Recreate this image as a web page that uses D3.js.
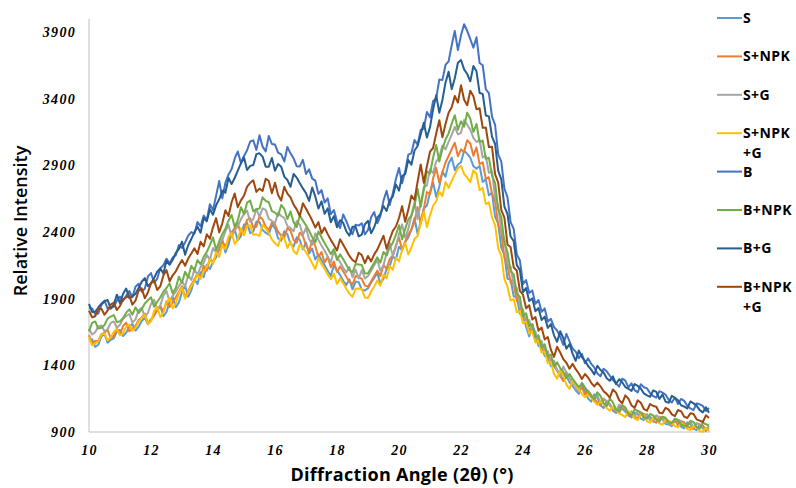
<!DOCTYPE html>
<html>
<head>
<meta charset="utf-8">
<script src="https://cdn.jsdelivr.net/npm/d3@7"></script>
<style>
  body { margin: 0; background: #fff; }
  svg { display: block; }
</style>
</head>
<body>
<svg id="chart" width="796" height="488"></svg>
<script>
// diffraction angle grid: 10.0 .. 30.0 in 0.1 steps
var startAngle = 10, angleStep = 0.1, nPoints = 201;
var angles = d3.range(nPoints).map(function(i) { return +(startAngle + i * angleStep).toFixed(1); });

var seriesNames = ["S", "S+NPK", "S+G", "S+NPK+G", "B", "B+NPK", "B+G", "B+NPK+G"];
var legendLines = [["S"], ["S+NPK"], ["S+G"], ["S+NPK", "+G"], ["B"], ["B+NPK"], ["B+G"], ["B+NPK", "+G"]];
var xTicks = [10, 12, 14, 16, 18, 20, 22, 24, 26, 28, 30];
var yTicks = [900, 1400, 1900, 2400, 2900, 3400, 3900];

var sVals = [
1585,1596,1538,1554,1617,1633,1570,1591,1602,1654,
1665,1620,1645,1690,1710,1660,1689,1732,1756,1708,
1736,1780,1812,1844,1768,1800,1878,1914,1836,1872,
1950,1998,1914,1962,2046,2010,2098,2061,2154,2122,
2177,2210,2274,2343,2246,2305,2391,2418,2337,2369,
2455,2467,2391,2403,2479,2475,2415,2395,2380,2455,
2430,2353,2334,2406,2382,2310,2290,2360,2340,2270,
2320,2238,2276,2194,2232,2190,2150,2110,2070,2150,
2110,2078,2034,2002,2046,1970,2028,2024,1966,1962,
1978,2020,2056,2092,2014,2050,2122,2146,2218,2194,
2290,2262,2326,2359,2418,2503,2385,2481,2577,2599,
2695,2771,2663,2739,2852,2815,2914,2957,2863,2906,
2923,3010,2986,2957,2894,2875,2895,2775,2795,2675,
2695,2514,2463,2282,2226,2050,2044,1918,1912,1786,
1775,1689,1617,1708,1631,1545,1557,1469,1481,1393,
1405,1361,1333,1289,1317,1274,1245,1213,1186,1247,
1210,1151,1128,1182,1159,1100,1080,1130,1110,1060,
1042,1090,1074,1053,1026,1010,1045,1035,1000,990,
1020,1015,980,970,1005,996,960,957,944,988,
980,941,928,972,959,925,914,957,946,908,
935];

var sNpkVals = [
1626,1565,1582,1584,1633,1645,1666,1603,1619,1677,
1630,1695,1720,1655,1675,1697,1740,1759,1788,1716,
1745,1772,1816,1843,1804,1880,1838,1874,1911,1952,
1994,1910,1958,2006,2042,2090,2058,2146,2109,2202,
2170,2234,2267,2326,2293,2343,2395,2431,2467,2379,
2415,2491,2503,2432,2439,2515,2495,2440,2415,2470,
2455,2400,2375,2360,2430,2410,2340,2320,2395,2370,
2300,2256,2338,2294,2212,2250,2172,2214,2136,2178,
2100,2142,2106,2064,2028,2006,2070,2062,2049,1998,
1990,2030,2070,2110,2070,2150,2126,2198,2222,2299,
2358,2265,2326,2382,2419,2475,2587,2461,2573,2699,
2685,2802,2881,2769,2848,2921,2970,3022,3069,2968,
3020,3001,3088,3064,2972,3035,2909,2923,2797,2811,
2685,2635,2450,2395,2210,2150,2020,2010,1885,1870,
1740,1757,1664,1681,1593,1605,1517,1534,1441,1453,
1393,1365,1321,1282,1349,1305,1273,1244,1207,1236,
1180,1211,1178,1152,1119,1099,1150,1128,1106,1077,
1055,1044,1087,1071,1023,1055,1010,1005,1045,1035,
1025,990,980,975,1015,1005,997,966,953,989,
950,981,973,937,934,922,965,954,948,916,
920];

var sGVals = [
1675,1631,1648,1692,1699,1655,1671,1718,1729,1682,
1705,1750,1770,1785,1720,1745,1812,1831,1764,1793,
1860,1892,1821,1848,1924,1958,1880,1921,1952,1994,
2030,1992,2074,2041,2118,2080,2136,2168,2229,2192,
2280,2245,2310,2340,2405,2455,2365,2410,2445,2495,
2535,2560,2475,2495,2575,2515,2577,2566,2499,2483,
2465,2545,2520,2505,2445,2430,2406,2483,2454,2377,
2430,2348,2304,2391,2342,2298,2260,2216,2172,2259,
2210,2174,2132,2096,2138,2060,2118,2051,2114,2052,
2070,2110,2150,2190,2110,2150,2244,2317,2218,2286,
2385,2457,2356,2423,2524,2625,2495,2615,2735,2750,
2870,2841,2928,2962,3049,3020,3076,3128,3189,3132,
3142,3240,3204,3168,3106,3075,3092,2959,2971,2843,
2855,2659,2598,2407,2346,2160,2140,2000,1980,1840,
1820,1725,1740,1640,1655,1565,1584,1493,1507,1416,
1435,1363,1319,1391,1347,1307,1275,1244,1203,1271,
1235,1202,1176,1143,1174,1120,1149,1132,1098,1076,
1057,1105,1089,1073,1041,1025,1013,1059,1047,1001,
1035,990,980,1025,1010,1006,970,967,954,998,
990,982,946,943,974,935,967,956,924,918,
945];

var sNpkGVals = [
1611,1550,1567,1579,1628,1640,1588,1609,1651,1672,
1625,1640,1690,1705,1660,1682,1730,1754,1778,1711,
1730,1806,1838,1762,1794,1870,1906,1828,1864,1942,
1984,1900,1948,1996,2032,2080,2048,2104,2136,2197,
2160,2248,2211,2304,2272,2365,2392,2311,2343,2429,
2375,2447,2451,2379,2383,2371,2455,2427,2394,2343,
2315,2295,2370,2350,2280,2330,2258,2234,2306,2282,
2248,2210,2166,2122,2204,2160,2124,2082,2046,2088,
2010,2052,2016,1974,1938,1913,1975,1976,1972,1909,
1905,1954,1992,2036,1998,2080,2052,2144,2116,2208,
2180,2266,2318,2232,2284,2349,2370,2463,2551,2437,
2525,2597,2631,2703,2669,2775,2731,2783,2832,2879,
2896,2835,2807,2774,2863,2835,2713,2731,2609,2622,
2510,2454,2278,2222,2046,1990,1886,1897,1798,1809,
1715,1729,1638,1657,1571,1585,1495,1505,1415,1425,
1335,1300,1365,1325,1255,1224,1285,1253,1216,1187,
1160,1186,1158,1127,1104,1130,1110,1080,1060,1090,
1073,1040,1026,1012,1054,1045,1000,990,1030,1025,
980,970,1010,1005,965,955,995,985,970,945,
935,966,953,922,914,945,939,907,901,933,
905];

var bVals = [
1830,1826,1783,1789,1852,1885,1825,1830,1840,1885,
1915,1884,1922,1958,1911,1990,2011,1953,1974,2067,
2092,2020,2049,2128,2151,2200,2163,2209,2226,2302,
2280,2321,2373,2399,2387,2475,2442,2524,2491,2608,
2565,2671,2783,2652,2769,2831,2870,2952,3004,2918,
2970,3013,3079,3087,3016,3125,3040,3005,3120,3060,
3056,2995,2982,2929,3038,2990,2953,2894,2892,2941,
2835,2870,2800,2785,2685,2715,2621,2652,2533,2564,
2480,2429,2532,2481,2423,2384,2455,2448,2466,2382,
2415,2510,2550,2465,2520,2635,2709,2602,2691,2798,
2880,2765,2855,2980,2990,3090,3055,3165,3175,3300,
3260,3382,3401,3543,3539,3653,3680,3801,3907,3764,
3875,3958,3909,3846,3782,3860,3668,3651,3469,3442,
3265,3204,2983,2927,2726,2660,2474,2423,2232,2186,
2010,2039,1943,1962,1861,1890,1801,1827,1728,1749,
1687,1660,1614,1553,1636,1580,1526,1503,1454,1487,
1415,1452,1411,1384,1338,1318,1375,1356,1322,1289,
1265,1240,1300,1285,1235,1265,1214,1197,1258,1236,
1227,1190,1169,1158,1206,1195,1179,1142,1121,1158,
1110,1148,1134,1096,1077,1064,1115,1108,1096,1057,
1080];

var bNpkVals = [
1655,1718,1729,1676,1682,1703,1750,1766,1777,1724,
1730,1755,1795,1820,1780,1835,1792,1821,1864,1888,
1911,1840,1877,1909,1953,1980,2015,1940,1980,2065,
2020,2102,2059,2146,2113,2190,2158,2214,2251,2302,
2360,2265,2330,2385,2425,2485,2528,2439,2487,2586,
2535,2620,2635,2555,2570,2577,2660,2634,2623,2556,
2545,2521,2603,2574,2497,2555,2474,2437,2523,2486,
2448,2410,2361,2322,2404,2360,2316,2278,2234,2272,
2190,2232,2196,2154,2113,2098,2160,2156,2152,2089,
2090,2130,2170,2210,2170,2250,2222,2286,2319,2378,
2451,2345,2422,2494,2523,2595,2723,2589,2717,2856,
2840,2959,3052,2928,3021,3094,3140,3213,3276,3167,
3230,3190,3295,3250,3150,3210,3073,3086,2949,2957,
2825,2767,2569,2511,2318,2250,2106,2082,1938,1914,
1770,1790,1695,1710,1610,1625,1534,1558,1467,1481,
1395,1423,1379,1351,1307,1335,1299,1267,1236,1263,
1231,1200,1167,1144,1198,1170,1118,1094,1151,1122,
1070,1054,1102,1086,1038,1024,1070,1058,1046,1012,
1000,1035,1025,995,980,1015,1007,971,968,999,
991,955,947,944,983,975,937,926,969,958,
950];

var bGVals = [
1861,1800,1802,1834,1863,1880,1890,1825,1855,1930,
1865,1937,1976,1904,1918,1936,1980,2027,2054,1993,
2015,2054,2102,2126,2088,2185,2154,2192,2243,2271,
2328,2230,2301,2347,2399,2440,2395,2505,2480,2570,
2530,2600,2645,2710,2695,2805,2760,2805,2860,2915,
2958,2865,2896,2902,2984,2990,2965,2890,2890,2955,
2860,2910,2890,2815,2790,2739,2835,2808,2766,2727,
2690,2633,2734,2667,2576,2630,2536,2577,2473,2519,
2435,2488,2469,2406,2372,2440,2439,2367,2381,2458,
2483,2390,2436,2507,2534,2595,2558,2639,2666,2757,
2710,2820,2835,2940,2905,3011,3045,3132,3219,3108,
3185,3320,3425,3295,3390,3520,3602,3471,3553,3669,
3690,3620,3585,3530,3645,3605,3443,3436,3274,3267,
3115,3060,2860,2795,2590,2535,2366,2332,2153,2114,
1950,1979,1883,1902,1806,1830,1740,1765,1680,1710,
1625,1577,1656,1603,1524,1560,1488,1434,1511,1462,
1434,1395,1368,1331,1397,1365,1346,1303,1284,1317,
1260,1296,1273,1237,1224,1208,1260,1246,1227,1189,
1175,1164,1212,1201,1148,1180,1128,1119,1171,1157,
1138,1100,1091,1077,1129,1115,1098,1064,1047,1086,
1045];

var bNpkGVals = [
1810,1761,1768,1827,1824,1780,1810,1855,1870,1815,
1845,1895,1910,1925,1855,1885,1959,1977,1903,1946,
2015,2037,1966,1993,2074,2115,2030,2075,2105,2150,
2190,2147,2201,2239,2278,2235,2326,2292,2383,2349,
2435,2504,2397,2466,2563,2520,2623,2689,2586,2637,
2672,2740,2769,2788,2701,2725,2708,2799,2782,2691,
2770,2677,2636,2739,2688,2660,2605,2570,2520,2615,
2575,2532,2486,2433,2474,2390,2433,2384,2341,2302,
2262,2345,2304,2263,2221,2190,2173,2244,2227,2166,
2220,2179,2232,2268,2321,2372,2275,2344,2408,2441,
2505,2594,2477,2566,2673,2640,2777,2906,2769,2893,
3002,3030,3139,3238,3111,3210,3295,3335,3420,3370,
3500,3392,3351,3459,3418,3320,3328,3181,3184,3037,
3040,2833,2771,2564,2507,2305,2287,2134,2111,1958,
1930,1828,1851,1744,1762,1660,1684,1593,1612,1516,
1463,1540,1496,1447,1419,1375,1412,1371,1339,1298,
1335,1308,1269,1242,1271,1243,1205,1186,1157,1219,
1195,1140,1115,1175,1150,1100,1081,1138,1119,1072,
1060,1110,1095,1090,1045,1040,1081,1068,1032,1019,
1065,1055,1015,1005,1040,1035,995,985,975,1025,
1005];

var seriesValues = [sVals, sNpkVals, sGVals, sNpkGVals, bVals, bNpkVals, bGVals, bNpkGVals];
var colors = ["#5B9BD5", "#ED7D31", "#A5A5A5", "#FFC000", "#4472C4", "#70AD47", "#255E91", "#9E480E"];

var svg = d3.select("#chart");
var left = 89, right = 709, bottom = 432;

var x = d3.scaleLinear().domain([10, 30]).range([left, right]);
var y = d3.scaleLinear().domain([900, 3900]).range([bottom, 32]);

// axis lines
svg.append("line")
  .attr("x1", left).attr("x2", left)
  .attr("y1", y(4000)).attr("y2", bottom)
  .attr("stroke", "#BFBFBF").attr("stroke-width", 1);
svg.append("line")
  .attr("x1", left).attr("x2", right + 1)
  .attr("y1", bottom).attr("y2", bottom)
  .attr("stroke", "#BFBFBF").attr("stroke-width", 1);

var yAxis = svg.append("g")
  .attr("transform", "translate(" + left + ",0)")
  .call(d3.axisLeft(y).tickValues(yTicks).tickSize(0).tickPadding(13).tickFormat(d3.format("d")));
var xAxis = svg.append("g")
  .attr("transform", "translate(0," + bottom + ")")
  .call(d3.axisBottom(x).tickValues(xTicks).tickSize(0).tickPadding(13).tickFormat(d3.format("d")));

[yAxis, xAxis].forEach(function(g) {
  g.select(".domain").remove();
  g.selectAll("text")
    .style("font-family", "'Liberation Serif', 'Times New Roman', serif")
    .style("font-style", "italic")
    .style("font-weight", "bold")
    .style("font-size", "14px")
    .style("letter-spacing", "1.3px")
    .attr("fill", "#000");
});

// series
var line = d3.line()
  .x(function(d, i) { return x(angles[i]); })
  .y(function(d) { return y(d); });

svg.append("g").selectAll("path")
  .data(seriesValues)
  .enter().append("path")
    .attr("d", line)
    .attr("fill", "none")
    .attr("stroke", function(d, i) { return colors[i]; })
    .attr("stroke-width", 2)
    .attr("stroke-linejoin", "round");

// titles
svg.append("text")
  .attr("x", 402).attr("y", 481)
  .attr("text-anchor", "middle")
  .style("font-family", "'Open Sans', sans-serif")
  .style("font-weight", "bold")
  .style("font-size", "18px")
  .style("letter-spacing", "0.3px")
  .text("Diffraction Angle (2θ) (°)");

svg.append("text")
  .attr("transform", "translate(27,221) rotate(-90)")
  .attr("text-anchor", "middle")
  .style("font-family", "'Open Sans', sans-serif")
  .style("font-weight", 600)
  .style("font-size", "18px")
  .text("Relative Intensity");

// legend
var legend = svg.append("g").selectAll("g")
  .data(seriesNames)
  .enter().append("g")
    .attr("transform", function(d, i) { return "translate(717," + (18 + i * 38.4) + ")"; });

legend.append("line")
  .attr("x1", 0).attr("x2", 25)
  .attr("stroke", function(d, i) { return colors[i]; })
  .attr("stroke-width", 2);

legend.append("text")
  .style("font-family", "'Open Sans', sans-serif")
  .style("font-weight", "bold")
  .style("font-size", "14px")
  .style("letter-spacing", "0.4px")
  .selectAll("tspan")
  .data(function(d, i) { return legendLines[i]; })
  .enter().append("tspan")
    .attr("x", 26)
    .attr("dy", function(d, j) { return j === 0 ? "0.35em" : "20px"; })
    .text(function(d) { return d; });
</script>
</body>
</html>
